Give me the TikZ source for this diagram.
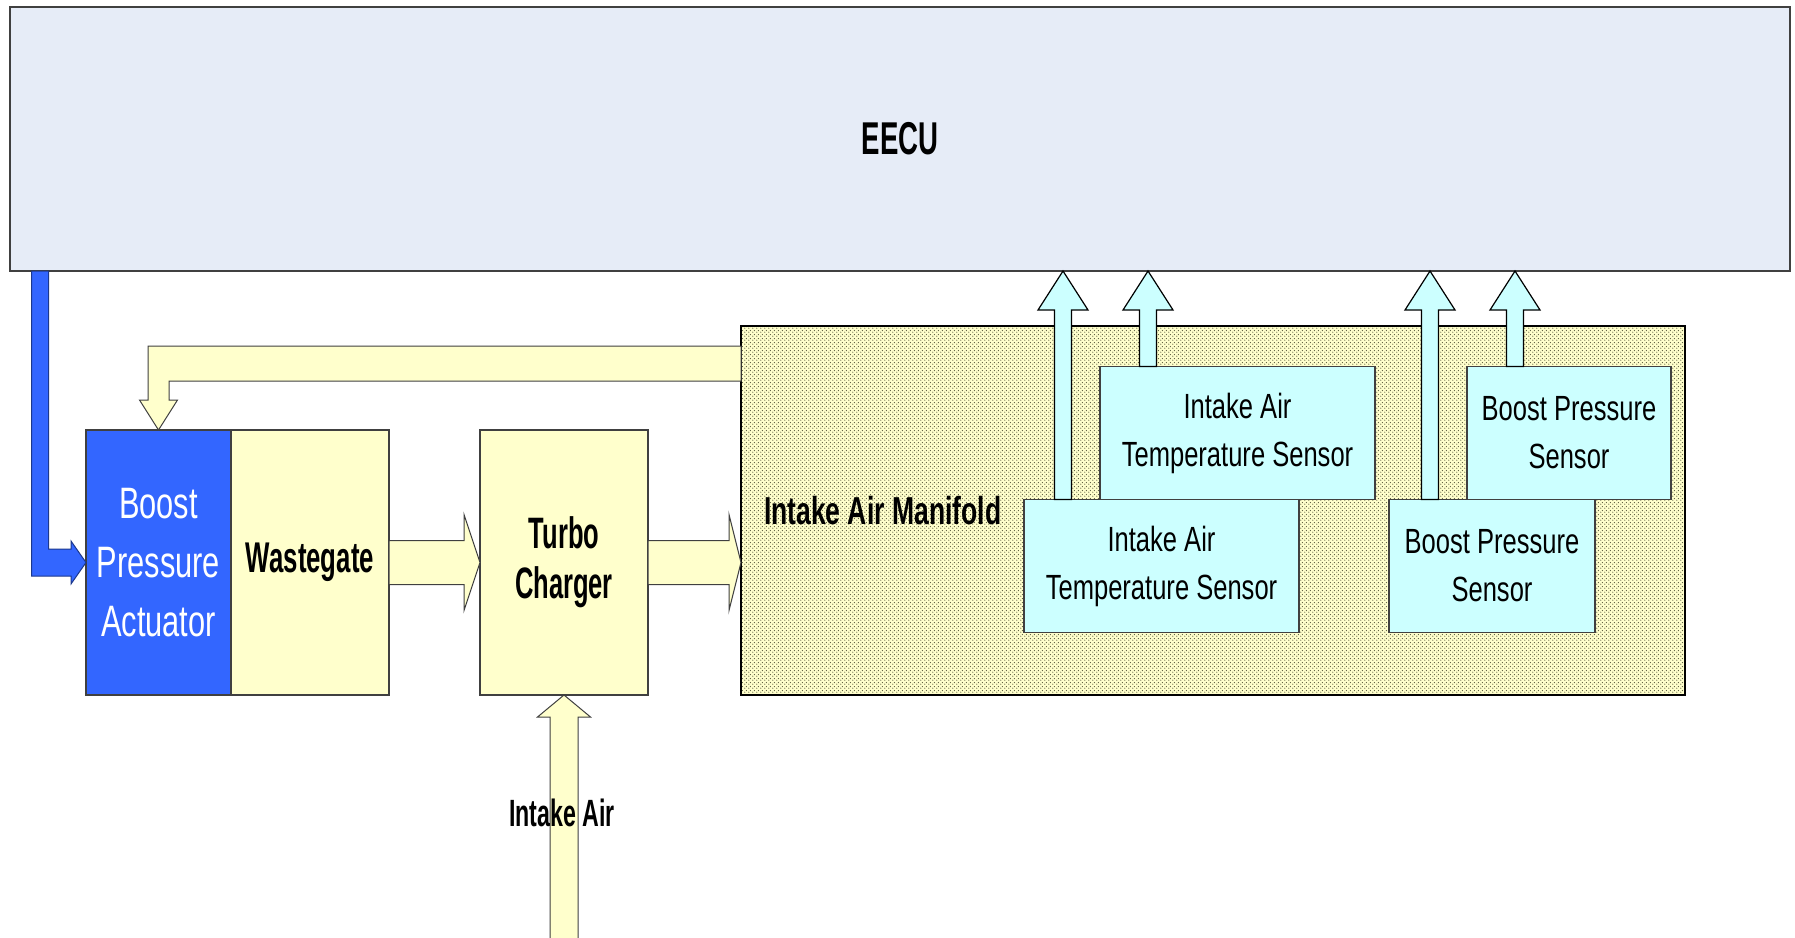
\documentclass[tikz,border=0pt]{standalone}
\usepackage{fontspec}
\setmainfont{Liberation Sans}
\usetikzlibrary{positioning,calc,patterns.meta}

\definecolor{ecufill}{HTML}{E6ECF7}
\definecolor{paleyellow}{HTML}{FFFFCC}
\definecolor{palecyan}{HTML}{CCFFFF}
\definecolor{actblue}{HTML}{3366FF}
\definecolor{edgegray}{HTML}{404040}
\definecolor{dotcolor}{HTML}{55553A}

\tikzdeclarepattern{
  name=manifolddots,
  type=uncolored,
  bounding box={(0,0) and (4pt,4pt)},
  tile size={(4pt,4pt)},
  code={
    \fill (1pt,1pt) circle (0.75pt) (3pt,3pt) circle (0.75pt);
  }
}

\tikzset{
  box/.style={draw=edgegray, line width=1.5pt, inner sep=0pt, outer sep=0pt, align=center},
  ecubox/.style={box, fill=ecufill, minimum width=1780pt, minimum height=264pt},
  yellowbox/.style={box, fill=paleyellow, minimum height=265pt},
  actbox/.style={box, fill=actblue, text=white, minimum width=145pt, minimum height=265pt,
    font=\fontsize{44}{59}\selectfont\addfontfeatures{FakeStretch=0.70}},
  sensor/.style={box, fill=palecyan, minimum height=133pt,
    font=\fontsize{35}{48}\selectfont\addfontfeatures{FakeStretch=0.73}},
  manifold/.style={draw=black, line width=2.5pt, minimum width=944pt, minimum height=369pt,
    preaction={fill=paleyellow}, pattern=manifolddots, pattern color=dotcolor},
  boldtext/.style 2 args={align=center, font=\bfseries\fontsize{#1}{50}\selectfont\addfontfeatures{FakeStretch=#2}},
  yellowarrow/.style={draw=edgegray, line width=1pt, fill=paleyellow},
  skyarrow/.style={draw=black, line width=1.2pt, fill=palecyan},
  bluearrow/.style={draw=actblue!55!black, line width=1pt, fill=actblue}
}

% block arrows: style, tail, tip, shaft half width, head half width, head length
\newcommand{\hblock}[6]{%
  \draw[#1] ($(#2)+(0,-#4)$) -- ($(#3)+(-#6,-#4)$) -- ($(#3)+(-#6,-#5)$) -- (#3)
    -- ($(#3)+(-#6,#5)$) -- ($(#3)+(-#6,#4)$) -- ($(#2)+(0,#4)$) -- cycle;}
\newcommand{\vblock}[6]{%
  \draw[#1] ($(#2)+(-#4,0)$) -- ($(#3)+(-#4,#6)$) -- ($(#3)+(-#5,#6)$) -- (#3)
    -- ($(#3)+(#5,#6)$) -- ($(#3)+(#4,#6)$) -- ($(#2)+(#4,0)$) -- cycle;}

\begin{document}
\begin{tikzpicture}[x=1pt, y=1pt, yscale=-1, inner sep=0pt, outer sep=0pt]
\useasboundingbox (0,0) rectangle (1795,937);
\fill[white] (0,0) rectangle (1795,937);

% controller
\node[ecubox, boldtext={46}{0.6}] (eecu) at (900,139) {EECU};

% manifold and sensors
\node[manifold] (manif) at (1213,510.5) {};
\node[boldtext={39}{0.68}, right=23pt of manif.west] (maniflabel) {Intake Air Manifold};
\node[sensor, minimum width=275pt] (iatup) at (1237.5,433) {Intake Air\\Temperature Sensor};
\node[sensor, minimum width=204pt] (bpsup) at (1569,433) {Boost Pressure\\Sensor};
\node[sensor, minimum width=275pt] (iatlo) at (1161.5,566) {Intake Air\\Temperature Sensor};
\node[sensor, minimum width=206pt] (bpslo) at (1492,566) {Boost Pressure\\Sensor};

% actuator, wastegate, turbo
\node[actbox] (act) at (158.5,562.5) {Boost\\Pressure\\Actuator};
\node[yellowbox, minimum width=158pt, boldtext={43}{0.6}, right=0pt of act] (waste) {Wastegate};
\node[yellowbox, minimum width=168pt, boldtext={44}{0.58}, right=91pt of waste] (turbo) {Turbo\\Charger};

% sensor signals
\coordinate (t1) at ($(iatlo.north west)+(39,0)$);
\coordinate (t2) at ($(iatup.north west)+(48,0)$);
\coordinate (t3) at ($(bpslo.north west)+(41,0)$);
\coordinate (t4) at ($(bpsup.north west)+(48,0)$);
\foreach \t in {t1,t2,t3,t4}
  \vblock{skyarrow}{\t}{\t |- eecu.south}{8.5}{25}{39};

% air path
\hblock{yellowarrow}{waste.east}{turbo.west}{22}{48}{16}
\hblock{yellowarrow}{turbo.east}{turbo.east -| manif.west}{22}{48}{12}
\coordinate (airin) at (564,945);
\vblock{yellowarrow}{airin}{turbo.south}{14}{26.5}{22}
\node[boldtext={38}{0.61}] (airlabel) at (562,813) {Intake Air};

% boost feedback to actuator
\coordinate (fb) at ($(manif.west)+(0,-147)$);
\coordinate (fbcorner) at (fb -| act.north);
\draw[yellowarrow] ($(fb)+(0,-17.5)$) -- ($(fbcorner)+(-10.5,-17.5)$)
  -- ($(act.north)+(-10.5,-30)$) -- ($(act.north)+(-19,-30)$) -- (act.north)
  -- ($(act.north)+(19,-30)$) -- ($(act.north)+(10.5,-30)$)
  -- ($(fbcorner)+(10.5,17.5)$) -- ($(fb)+(0,17.5)$) -- cycle;

% control signal to actuator
\coordinate (bluetop) at ($(eecu.south west)+(30,0)$);
\coordinate (bluecorner) at (bluetop |- act.west);
\draw[bluearrow] ($(bluetop)+(-8.5,0)$) -- ($(bluecorner)+(-8.5,13.5)$)
  -- ($(act.west)+(-15,13.5)$) -- ($(act.west)+(-15,21.5)$) -- (act.west)
  -- ($(act.west)+(-15,-21.5)$) -- ($(act.west)+(-15,-13.5)$)
  -- ($(bluecorner)+(8.5,-13.5)$) -- ($(bluetop)+(8.5,0)$) -- cycle;

\end{tikzpicture}
\end{document}
